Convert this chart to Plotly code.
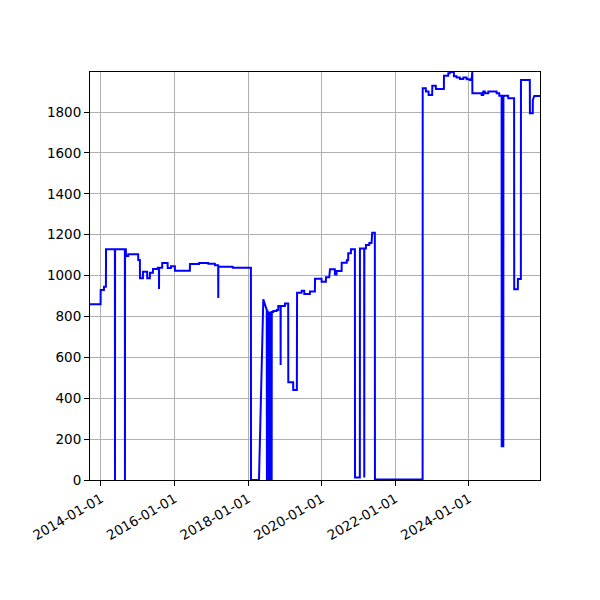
import plotly.graph_objects as go
import pandas as pd

# segmentos: inicio, fim, valor (cada segmento e um patamar; gaps viram rampas)
seg_inicio = [
    "2013-09-14", "2013-12-29", "2014-01-31", "2014-02-20", "2014-05-20", "2014-05-21",
    "2014-08-27", "2014-08-28", "2014-09-06", "2014-09-29", "2015-01-06", "2015-01-23",
    "2015-02-22", "2015-04-05", "2015-05-02", "2015-06-01", "2015-07-18", "2015-07-31",
    "2015-08-01", "2015-09-01", "2015-10-25", "2015-11-27", "2016-01-05", "2016-06-02",
    "2016-09-01", "2016-12-01", "2017-02-05", "2017-03-10", "2017-03-11", "2017-08-01",
    "2018-01-29", "2018-05-31", "2018-07-04", "2018-07-06", "2018-07-07", "2018-07-14",
    "2018-07-15", "2018-07-22", "2018-07-23", "2018-07-30", "2018-07-31", "2018-08-07",
    "2018-08-08", "2018-08-15", "2018-08-16", "2018-08-22", "2018-08-23", "2018-09-07",
    "2018-10-11", "2018-10-27", "2018-11-19", "2018-11-20", "2019-01-01", "2019-02-03",
    "2019-03-24", "2019-04-30", "2019-05-01", "2019-06-16", "2019-07-12", "2019-09-06",
    "2019-10-26", "2019-12-31", "2020-02-12", "2020-03-16", "2020-03-23", "2020-05-11",
    "2020-05-28", "2020-07-17", "2020-09-06", "2020-09-20", "2020-10-17", "2020-11-26",
    "2021-01-14", "2021-02-26", "2021-02-27", "2021-03-15", "2021-04-17", "2021-05-10",
    "2021-05-16", "2021-06-12", "2022-09-29", "2022-10-31", "2022-11-27", "2023-01-02",
    "2023-02-07", "2023-04-28", "2023-06-10", "2023-06-26", "2023-08-05", "2023-09-01",
    "2023-10-04", "2023-11-06", "2023-12-09", "2024-01-11", "2024-01-28", "2024-02-04",
    "2024-05-06", "2024-05-22", "2024-06-08", "2024-07-11", "2024-10-02", "2024-10-28",
    "2024-11-21", "2024-11-22", "2024-12-07", "2024-12-08", "2025-01-25", "2025-03-25",
    "2025-05-01", "2025-05-31", "2025-08-28", "2025-09-26", "2025-10-10",
]
seg_fim = [
    "2013-12-28", "2014-01-30", "2014-02-19", "2014-05-19", "2014-05-20", "2014-08-26",
    "2014-08-27", "2014-09-05", "2014-09-28", "2015-01-05", "2015-01-22", "2015-02-21",
    "2015-04-04", "2015-05-01", "2015-05-31", "2015-07-17", "2015-07-30", "2015-07-31",
    "2015-08-31", "2015-10-24", "2015-11-26", "2016-01-04", "2016-06-01", "2016-08-31",
    "2016-11-30", "2017-02-04", "2017-03-09", "2017-03-10", "2017-07-31", "2018-01-28",
    "2018-04-18", "2018-05-31", "2018-07-05", "2018-07-06", "2018-07-13", "2018-07-14",
    "2018-07-21", "2018-07-22", "2018-07-29", "2018-07-30", "2018-08-06", "2018-08-07",
    "2018-08-14", "2018-08-15", "2018-08-21", "2018-08-22", "2018-09-06", "2018-10-10",
    "2018-10-26", "2018-11-18", "2018-11-19", "2018-12-31", "2019-02-02", "2019-03-23",
    "2019-04-29", "2019-04-30", "2019-06-15", "2019-07-11", "2019-09-05", "2019-10-25",
    "2019-12-30", "2020-02-11", "2020-03-15", "2020-03-22", "2020-05-10", "2020-05-27",
    "2020-07-16", "2020-09-05", "2020-09-19", "2020-10-16", "2020-11-25", "2021-01-13",
    "2021-02-25", "2021-02-26", "2021-03-14", "2021-04-16", "2021-05-09", "2021-05-15",
    "2021-06-11", "2022-09-28", "2022-10-30", "2022-11-26", "2023-01-01", "2023-02-06",
    "2023-04-27", "2023-06-09", "2023-06-25", "2023-08-04", "2023-08-31", "2023-10-03",
    "2023-11-05", "2023-12-08", "2024-01-10", "2024-01-27", "2024-02-03", "2024-05-05",
    "2024-05-21", "2024-06-07", "2024-07-10", "2024-10-01", "2024-10-27", "2024-11-20",
    "2024-11-21", "2024-12-06", "2024-12-07", "2025-01-24", "2025-03-24", "2025-04-30",
    "2025-05-30", "2025-08-27", "2025-09-25", "2025-09-26", "2025-12-06",
]
seg_valor = [
    860, 930, 945, 1129, 0, 1129,
    0, 1129, 1096, 1104, 1076, 987,
    1019, 987, 1014, 1032, 1038, 934,
    1038, 1061, 1037, 1046, 1024, 1057,
    1061, 1058, 1050, 890, 1043, 1038,
    0, 884, 832, 0, 825, 0,
    818, 0, 818, 0, 818, 0,
    820, 0, 820, 0, 822, 827,
    832, 851, 562, 851, 864, 478,
    440, 636, 916, 926, 910, 922,
    985, 970, 992, 1011, 1031, 1005,
    1022, 1063, 1075, 1109, 1129, 12,
    1133, 12, 1133, 1150, 1160, 1190,
    1210, 3, 1916, 1900, 1884, 1929,
    1913, 1978, 1990, 1996, 1975, 1969,
    1962, 1969, 1960, 1957, 1996, 1892,
    1884, 1900, 1892, 1900, 1892, 1880,
    160, 1880, 160, 1880, 1867, 933,
    983, 1957, 1794, 1859, 1879,
]

datas = []
valores = []
for ini, fim, v in zip(seg_inicio, seg_fim, seg_valor):
    datas += [ini, fim]
    valores += [v, v]
datas = pd.to_datetime(datas)

tick_datas = ["2014-01-01", "2016-01-01", "2018-01-01", "2020-01-01", "2022-01-01", "2024-01-01"]
tick_y = [0, 200, 400, 600, 800, 1000, 1200, 1400, 1600, 1800]

fig = go.Figure(go.Scatter(
    x=datas, y=valores, mode="lines",
    line=dict(color="#0000ff", width=2),
    hoverinfo="x+y", name="",
))

cor_grade = "#b0b0b0"
fonte = dict(family="DejaVu Sans", size=13.5, color="black")
fig.update_layout(
    width=600, height=600,
    margin=dict(l=82, r=68, t=64, b=128),
    paper_bgcolor="white", plot_bgcolor="white",
    showlegend=False, font=fonte,
    xaxis=dict(
        range=[datas.min(), datas.max()],
        tickvals=pd.to_datetime(tick_datas), ticktext=tick_datas,
        tickangle=-30, ticks="outside", ticklen=5, tickcolor="black",
        showgrid=True, gridcolor=cor_grade, gridwidth=1,
        showline=True, linecolor="black", linewidth=1, mirror=True,
        zeroline=False,
    ),
    yaxis=dict(
        range=[0, max(valores)],
        tickvals=tick_y, ticks="outside", ticklen=5, tickcolor="black",
        showgrid=True, gridcolor=cor_grade, gridwidth=1,
        showline=True, linecolor="black", linewidth=1, mirror=True,
        zeroline=False,
    ),
)

fig.write_html("out.html")
